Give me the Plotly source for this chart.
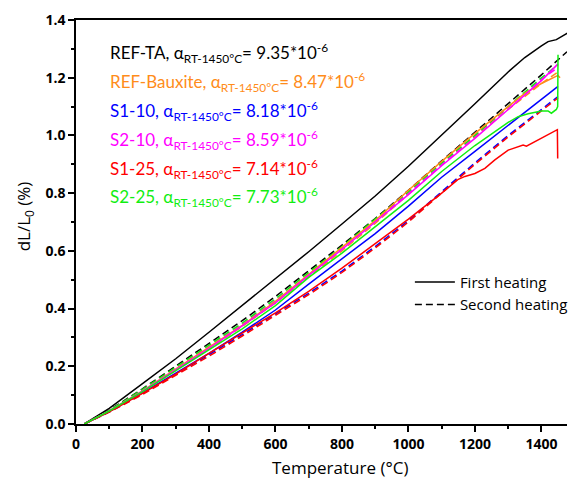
import plotly.graph_objects as go

T_std = [25, 100, 200, 300, 400, 500, 600, 700, 800, 900, 1000, 1100, 1200, 1300, 1400, 1450]

# REF-TA
T_refta_1 = [25, 100, 200, 300, 400, 500, 600, 700, 800, 900, 1000, 1100, 1200, 1300, 1350, 1400, 1420, 1445, 1480]
v_refta_1 = [0, 0.054, 0.14, 0.226, 0.318, 0.41, 0.502, 0.597, 0.693, 0.79, 0.893, 1.0, 1.11, 1.22, 1.27, 1.31, 1.325, 1.332, 1.356]
T_refta_2 = [25, 100, 200, 300, 400, 500, 600, 700, 800, 900, 1000, 1100, 1200, 1300, 1400, 1443, 1477]
v_refta_2 = [0, 0.048, 0.122, 0.2, 0.278, 0.358, 0.442, 0.53, 0.62, 0.712, 0.81, 0.912, 1.01, 1.11, 1.21, 1.255, 1.29]

# REF-Bauxite
T_baux_1 = [25, 100, 200, 300, 400, 500, 600, 700, 800, 900, 1000, 1100, 1200, 1300, 1350, 1400, 1450, 1456]
v_baux_1 = [0, 0.045, 0.115, 0.19, 0.265, 0.342, 0.425, 0.52, 0.612, 0.705, 0.81, 0.91, 1.007, 1.10, 1.146, 1.18, 1.208, 1.20]
v_baux_2 = [0, 0.044, 0.112, 0.186, 0.26, 0.338, 0.42, 0.51, 0.6, 0.695, 0.798, 0.898, 0.995, 1.09, 1.18, 1.22]

# S1-10
v_s110_1 = [0, 0.043, 0.108, 0.176, 0.245, 0.318, 0.395, 0.485, 0.572, 0.66, 0.755, 0.855, 0.945, 1.035, 1.125, 1.17]
v_s110_2 = [0, 0.042, 0.105, 0.172, 0.24, 0.31, 0.38, 0.453, 0.53, 0.615, 0.705, 0.805, 0.905, 1.0, 1.09, 1.135]

# S2-10
v_s210_1 = [0, 0.045, 0.114, 0.188, 0.262, 0.34, 0.42, 0.515, 0.605, 0.7, 0.795, 0.895, 0.99, 1.09, 1.19, 1.248]
v_s210_2 = [0, 0.046, 0.116, 0.192, 0.268, 0.345, 0.428, 0.518, 0.608, 0.702, 0.8, 0.9, 0.998, 1.098, 1.195, 1.235]

# S1-25
T_s125_1 = [25, 100, 200, 300, 400, 500, 600, 700, 800, 900, 1000, 1100, 1150, 1170, 1200, 1230, 1260, 1300, 1330, 1345, 1355, 1400, 1448, 1449]
v_s125_1 = [0, 0.042, 0.106, 0.173, 0.245, 0.315, 0.385, 0.46, 0.54, 0.625, 0.71, 0.8, 0.848, 0.858, 0.868, 0.886, 0.915, 0.949, 0.962, 0.967, 0.963, 0.99, 1.02, 0.92]
v_s125_2 = [0, 0.041, 0.102, 0.168, 0.235, 0.305, 0.375, 0.448, 0.525, 0.61, 0.7, 0.8, 0.9, 0.995, 1.085, 1.13]

# S2-25
T_s225_1 = [25, 100, 200, 300, 400, 500, 600, 700, 800, 900, 1000, 1100, 1200, 1300, 1330, 1360, 1400, 1420, 1430, 1445, 1449, 1450]
v_s225_1 = [0, 0.045, 0.112, 0.184, 0.255, 0.33, 0.41, 0.508, 0.592, 0.682, 0.775, 0.875, 0.965, 1.045, 1.065, 1.075, 1.085, 1.085, 1.077, 1.09, 1.10, 1.28]
v_s225_2 = [0, 0.047, 0.12, 0.196, 0.272, 0.35, 0.434, 0.525, 0.615, 0.71, 0.805, 0.905, 1.0, 1.1, 1.2, 1.245]

C_BLACK = "#000000"
C_ORANGE = "#FF8C1A"
C_BLUE = "#0000FF"
C_MAGENTA = "#FF00FF"
C_RED = "#FF0000"
C_GREEN = "#11EE11"

labels = [
    ("REF-TA", "9.35", C_BLACK),
    ("REF-Bauxite", "8.47", C_ORANGE),
    ("S1-10", "8.18", C_BLUE),
    ("S2-10", "8.59", C_MAGENTA),
    ("S1-25", "7.14", C_RED),
    ("S2-25", "7.73", C_GREEN),
]
label_y = [1.285, 1.185, 1.085, 0.985, 0.885, 0.785]

series = [
    (T_refta_2, v_refta_2, C_BLACK, "dash"),
    (T_std, v_baux_2, C_ORANGE, "dash"),
    (T_std, v_s110_2, C_BLUE, "dash"),
    (T_std, v_s210_2, C_MAGENTA, "dash"),
    (T_std, v_s125_2, C_RED, "dash"),
    (T_std, v_s225_2, C_GREEN, "dash"),
    (T_refta_1, v_refta_1, C_BLACK, "solid"),
    (T_baux_1, v_baux_1, C_ORANGE, "solid"),
    (T_std, v_s110_1, C_BLUE, "solid"),
    (T_std, v_s210_1, C_MAGENTA, "solid"),
    (T_s125_1, v_s125_1, C_RED, "solid"),
    (T_s225_1, v_s225_1, C_GREEN, "solid"),
]

DASH = "7px,4px"

fig = go.Figure()
for x, y, c, d in series:
    fig.add_trace(go.Scatter(x=x, y=y, mode="lines", showlegend=False,
                             line=dict(color=c, width=1.5, dash=DASH if d == "dash" else "solid")))

fig.add_trace(go.Scatter(x=[None], y=[None], mode="lines", name="First heating",
                         line=dict(color="black", width=1.5)))
fig.add_trace(go.Scatter(x=[None], y=[None], mode="lines", name="Second heating",
                         line=dict(color="black", width=1.5, dash=DASH)))

for (name, val, col), yy in zip(labels, label_y):
    fig.add_annotation(x=0.066, xref="paper", y=yy, yref="y", xanchor="left", yanchor="middle",
                       showarrow=False,
                       text=f"{name}, α<sub>RT-1450°C</sub>= {val}*10<sup>-6</sup>",
                       font=dict(family="Lato", size=17, color=col))

fig.add_annotation(x=0.537, xref="paper", y=-0.108, yref="paper", xanchor="center", yanchor="middle",
                   showarrow=False, text="Temperature (°C)",
                   font=dict(family="Open Sans", size=17, color="black"))
fig.add_annotation(x=-0.103, xref="paper", y=0.515, yref="paper", xanchor="center", yanchor="middle",
                   showarrow=False, textangle=-90, text="dL/L<sub>0</sub> (%)",
                   font=dict(family="Open Sans", size=17, color="black"))

axis_common = dict(showline=True, linecolor="black", linewidth=1.5, ticks="outside",
                   ticklen=6, tickwidth=1.5, tickcolor="black", showgrid=False, zeroline=False,
                   tickfont=dict(family="Open Sans", size=14, color="black", weight="bold"))

fig.update_xaxes(range=[0, 1477], dtick=200, tick0=0, mirror=True,
                 minor=dict(ticks="outside", dtick=100, ticklen=3, tickwidth=1.5, tickcolor="black"),
                 **axis_common)
fig.update_yaxes(range=[0, 1.4], dtick=0.2, tick0=0, tickformat=".1f",
                 minor=dict(ticks="outside", dtick=0.1, ticklen=3, tickwidth=1.5, tickcolor="black"),
                 **axis_common)

fig.update_layout(
    width=573, height=481,
    margin=dict(l=76, r=0, t=20, b=57),
    plot_bgcolor="white", paper_bgcolor="white",
    legend=dict(x=0.68, y=0.392, xanchor="left", yanchor="top", bgcolor="rgba(0,0,0,0)",
                font=dict(family="Open Sans", size=15, color="black"), tracegroupgap=0,
                itemwidth=40),
)

fig.write_html("out.html")
